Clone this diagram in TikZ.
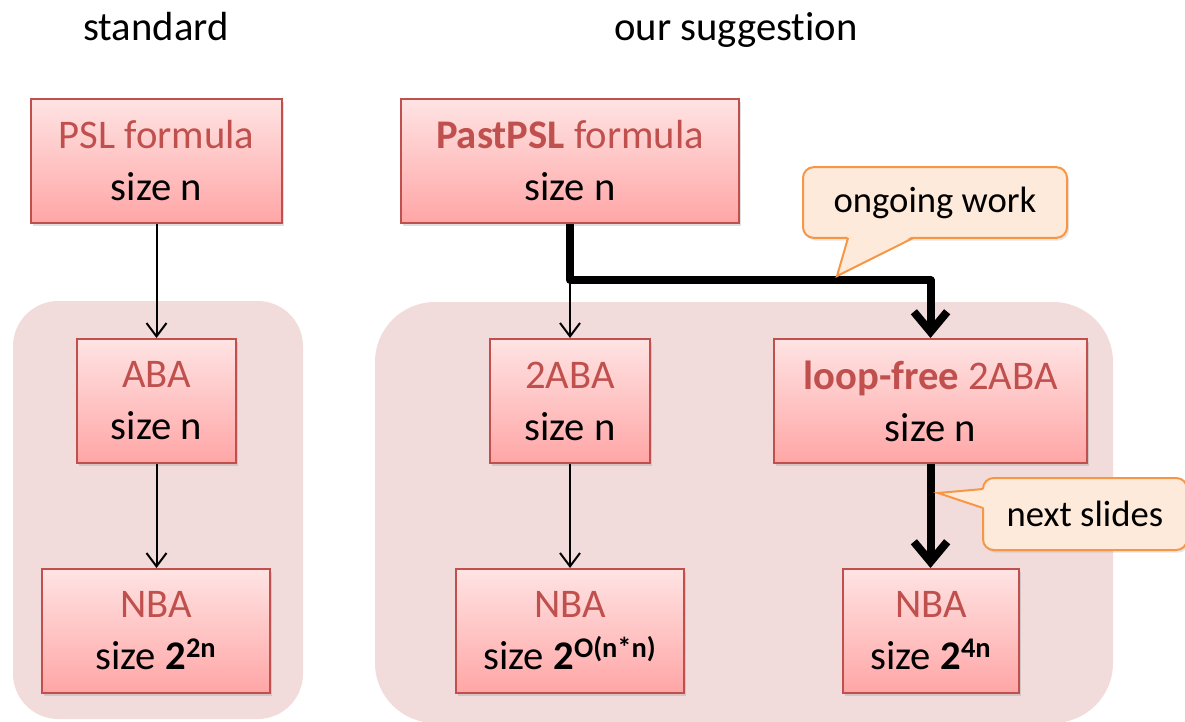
\documentclass[tikz,border=0pt]{standalone}
\usepackage{fontspec}
\setmainfont[Ligatures=NoCommon]{Carlito}
\usetikzlibrary{arrows.meta, shadows, positioning}

\definecolor{boxline}{HTML}{C0504D}
\definecolor{boxtop}{HTML}{FFE3E3}
\definecolor{boxbot}{HTML}{FFA6A6}
\definecolor{areafill}{HTML}{F2DCDB}
\definecolor{notefill}{HTML}{FDEADA}
\definecolor{noteline}{HTML}{F79646}

\newcommand{\redtxt}[1]{\textcolor{boxline}{#1}}
\newcommand{\expsize}[1]{size {\bfseries 2}\textsuperscript{\bfseries #1}}

\tikzset{
	stage/.style={draw=boxline, line width=1.5pt, top color=boxtop, bottom color=boxbot,
		minimum height=93pt, inner sep=0pt, align=center,
		font=\fontsize{30.5}{39}\selectfont,
		drop shadow={shadow xshift=1.5pt, shadow yshift=-2pt, opacity=0.25}},
	calloutbox/.style={draw=noteline, fill=notefill, line width=1.5pt, rounded corners=8pt,
		inner sep=0pt, font=\fontsize{27.5}{33}\selectfont,
		drop shadow={shadow xshift=1.5pt, shadow yshift=-2pt, opacity=0.2}},
	heading/.style={font=\fontsize{30.5}{36}\selectfont, anchor=base},
	thin arrow/.style={-{Straight Barb[length=10pt,width=15pt]}, line width=1.5pt},
	thick arrow/.style={-{Straight Barb[length=15pt,width=25pt]}, line width=6pt, line join=round},
}

\begin{document}
\begin{tikzpicture}[x=0.75pt, y=-0.75pt]
	\useasboundingbox (0,0) rectangle (1185,721);

	% grey-pink areas
	\fill[areafill, rounded corners=34pt] (13,301) rectangle (303,719);
	\fill[areafill, rounded corners=45pt] (375,302) rectangle (1113,723);

	\node[heading] (stdtitle) at (156,40) {standard};
	\node[heading] (ourtitle) at (736,40) {our suggestion};

	% standard
	\node[stage, minimum width=188pt] (psl) at (156.5,161) {\redtxt{PSL formula}\\size n};
	\node[stage, minimum width=119pt] (aba) at (156.5,401) {\redtxt{ABA}\\size n};
	\node[stage, minimum width=171pt] (nbal) at (156,631) {\redtxt{NBA}\\\expsize{2n}};

	% our suggestion
	\node[stage, minimum width=253.5pt] (past) at (570,161) {\redtxt{\textbf{PastPSL} formula}\\size n};
	\node[stage, minimum width=120pt] (twoaba) at (570,401) {\redtxt{2ABA}\\size n};
	\node[stage, minimum width=235pt] (loopfree) at (930.5,401) {\redtxt{\textbf{loop-free} 2ABA}\\size n};
	\node[stage, minimum width=171pt] (nbam) at (570,631) {\redtxt{NBA}\\\expsize{O(n*n)}};
	\node[stage, minimum width=132pt] (nbar) at (931,631) {\redtxt{NBA}\\\expsize{4n}};

	\coordinate (split) at (570,280);

	\draw[thin arrow] (psl) -- (aba);
	\draw[thin arrow] (aba.south) -- (aba.south |- nbal.north);
	\draw[thin arrow] (split) -- (twoaba);
	\draw[thin arrow] (twoaba) -- (nbam);
	\draw[thick arrow] (past) -- (split) -| (loopfree);
	\draw[thick arrow] (loopfree.south) -- (loopfree.south |- nbar.north);

	% callouts
	\node[calloutbox, minimum width=198pt, minimum height=53pt] (ongoing) at (935,202.5) {ongoing work};
	\fill[notefill] (848,236) -- (837,276) -- (913,236) -- cycle;
	\draw[noteline, line width=1.5pt] (848,238) -- (837,276) -- (913,238);

	\node[calloutbox, minimum width=153pt, minimum height=54pt] (nextslides) at (1085,514) {next slides};
	\fill[notefill] (985,489) -- (938,493) -- (985,508) -- cycle;
	\draw[noteline, line width=1.5pt] (983,489) -- (938,493) -- (983,508);
\end{tikzpicture}
\end{document}
